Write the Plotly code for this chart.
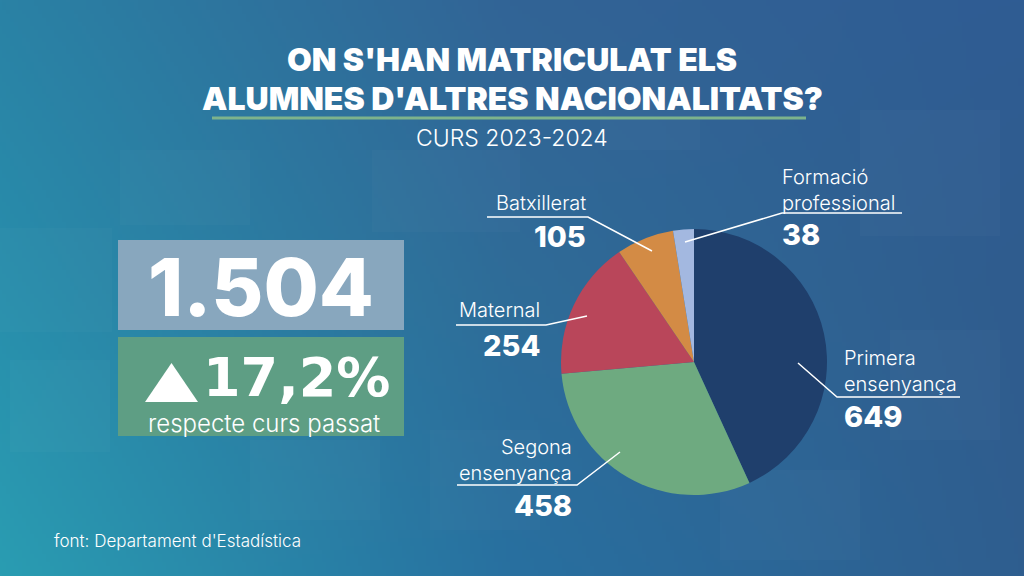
import base64, struct, zlib
import numpy as np
import plotly.graph_objects as go

# ---------------- data ----------------
categories = ["Primera ensenyança", "Segona ensenyança", "Maternal", "Batxillerat", "Formació professional"]
values = [649, 458, 254, 105, 38]
slice_colors = ["#1F3F6C", "#6EAA80", "#B9465A", "#D38B45", "#A3B8E0"]
label_lines = [["Primera", "ensenyança"], ["Segona", "ensenyança"], ["Maternal"], ["Batxillerat"],
               ["Formació", "professional"]]
total_label = "1.504"
change_label = "17,2%"
change_text = "respecte curs passat"
title_lines = ["ON S'HAN MATRICULAT ELS", "ALUMNES D'ALTRES NACIONALITATS?"]
subtitle = "CURS 2023-2024"
source = "font: Departament d'Estadística"

W, H = 1024, 576
def px(x): return x / W
def py(y): return 1 - y / H

# ---------------- background gradient as PNG ----------------
grid = np.array([
    [[42, 130, 165], [50, 100, 150], [47, 92, 147]],
    [[40, 142, 172], [47, 108, 152], [48, 92, 142]],
    [[42, 157, 178], [40, 112, 160], [47, 94, 143]],
], dtype=float)
gw, gh = 256, 144
ys = np.linspace(0, 2, gh)[:, None]
xs = np.linspace(0, 2, gw)[None, :]
y0 = np.clip(np.floor(ys).astype(int), 0, 1); x0 = np.clip(np.floor(xs).astype(int), 0, 1)
fy = (ys - y0)[..., None]; fx = (xs - x0)[..., None]
y0b = np.broadcast_to(y0, (gh, gw)); x0b = np.broadcast_to(x0, (gh, gw))
c00 = grid[y0b, x0b]; c01 = grid[y0b, x0b + 1]; c10 = grid[y0b + 1, x0b]; c11 = grid[y0b + 1, x0b + 1]
img = (c00 * (1 - fx) * (1 - fy) + c01 * fx * (1 - fy) + c10 * (1 - fx) * fy + c11 * fx * fy)
img = np.clip(img, 0, 255).astype(np.uint8)

def png_uri(arr):
    h, w, _ = arr.shape
    raw = b"".join(b"\x00" + arr[r].tobytes() for r in range(h))
    def chunk(t, d):
        return struct.pack(">I", len(d)) + t + d + struct.pack(">I", zlib.crc32(t + d) & 0xffffffff)
    data = b"\x89PNG\r\n\x1a\n" + chunk(b"IHDR", struct.pack(">IIBBBBB", w, h, 8, 2, 0, 0, 0)) \
        + chunk(b"IDAT", zlib.compress(raw, 9)) + chunk(b"IEND", b"")
    return "data:image/png;base64," + base64.b64encode(data).decode()

fig = go.Figure()
fig.add_trace(go.Pie(
    labels=categories, values=values, sort=False, direction="clockwise", rotation=0,
    marker=dict(colors=slice_colors, line=dict(width=0)),
    textinfo="none", hoverinfo="label+value", showlegend=False,
    domain=dict(x=[px(561), px(827)], y=[py(495), py(229)]),
))

FONT = "Inter"
annotations = []
def txt(x, y, text, size, weight=400, xanchor="center", color="white", family=FONT):
    annotations.append(dict(x=px(x), y=py(y), xref="paper", yref="paper", text=text, showarrow=False,
                            xanchor=xanchor, yanchor="middle", align=xanchor if xanchor != "center" else "center",
                            font=dict(family=family, size=size, color=color, weight=weight)))

txt(512, 59.5, title_lines[0], 32, 900)
txt(512, 98.5, title_lines[1], 32, 900)
txt(512, 138, subtitle, 23, 300)
txt(261, 286, total_label, 80, 800)
txt(201, 377, change_label, 54, 700, xanchor="left", family="DejaVu Sans")
txt(264, 423, change_text, 24, 300)
txt(52, 541, source, 17, 300, xanchor="left")

# pie labels: (category index, anchor x, name-block center y, value y, xanchor)
label_spec = [
    (3, 588, 203, 237, "right"),
    (4, 780, 190, 234, "left"),
    (2, 542, 310, 345, "right"),
    (0, 842, 371, 416, "left"),
    (1, 574, 460, 505, "right"),
]
for idx, x, ly, vy, xa in label_spec:
    txt(x, ly, "<br>".join(label_lines[idx]), 20, 300, xanchor=xa)
    txt(x, vy, str(values[idx]), 29, 800, xanchor=xa)

shapes = []
def rect(x0, y0, x1, y1, color, layer="below"):
    shapes.append(dict(type="rect", xref="paper", yref="paper", x0=px(x0), x1=px(x1), y0=py(y1), y1=py(y0),
                       fillcolor=color, line=dict(width=0), layer=layer))
def poly(pts, width=1.5, color="white"):
    path = "M " + " L ".join(f"{px(a)},{py(b)}" for a, b in pts)
    shapes.append(dict(type="path", xref="paper", yref="paper", path=path, line=dict(color=color, width=width)))

# faint background squares
for bx in [(0, 228, 112, 332), (10, 360, 110, 452), (372, 150, 520, 232), (860, 110, 1000, 236),
           (890, 330, 1000, 440), (430, 430, 540, 530), (250, 440, 380, 520), (600, 60, 700, 150),
           (120, 150, 250, 225), (720, 470, 860, 560)]:
    rect(*bx, "rgba(255,255,255,0.018)")

rect(118, 240, 404, 330, "#88A7BE")
rect(118, 337, 404, 436, "#5E9E84")
shapes.append(dict(type="line", xref="paper", yref="paper", x0=px(212), x1=px(806), y0=py(118), y1=py(118),
                   line=dict(color="#7DB38C", width=3)))
# triangle
shapes.append(dict(type="path", xref="paper", yref="paper",
                   path=f"M {px(145)},{py(402)} L {px(198)},{py(402)} L {px(171.5)},{py(363)} Z",
                   fillcolor="white", line=dict(width=0)))
# leaders
poly([(487, 217), (588, 217), (652, 251)])
poly([(902, 213), (782, 213), (685, 242)])
poly([(456, 325), (546, 325), (587, 316)])
poly([(960, 397), (837, 397), (798, 363)])
poly([(457, 485), (577, 485), (620, 452)])

fig.update_layout(
    width=W, height=H, margin=dict(l=0, r=0, t=0, b=0),
    paper_bgcolor="#2F6C98", plot_bgcolor="rgba(0,0,0,0)",
    images=[dict(source=png_uri(img), xref="paper", yref="paper", x=0, y=1, sizex=1, sizey=1,
                 sizing="stretch", layer="below", xanchor="left", yanchor="top")],
    annotations=annotations, shapes=shapes,
)
fig.write_html("out.html", config={"displayModeBar": False},
               post_script="document.body.style.margin='0';document.body.style.overflow='hidden';")
